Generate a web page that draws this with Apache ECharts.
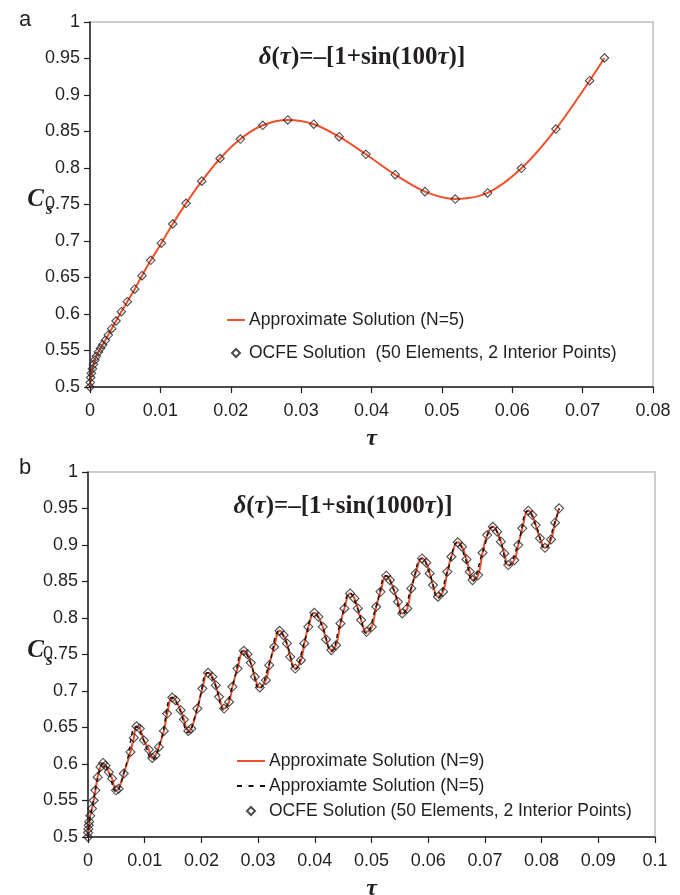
<!DOCTYPE html>
<html>
<head>
<meta charset="utf-8">
<script src="https://cdn.jsdelivr.net/npm/echarts@6/dist/echarts.min.js"></script>
<style>
html,body{margin:0;padding:0;background:#fff;}
#chart{width:680px;height:895px;}
</style>
</head>
<body>
<div id="chart"></div>
<script>
// ---------- Panel (a): delta(tau) = -[1+sin(100 tau)] ----------
const topTau = [0, 0.00003, 0.0001, 0.0002, 0.00035, 0.0005, 0.0007, 0.0009, 0.0012, 0.0015, 0.0018,
  0.00218, 0.0026, 0.00308, 0.0037, 0.00445, 0.0053, 0.00635, 0.00739, 0.00863, 0.01014, 0.01175,
  0.01365, 0.01588, 0.01848, 0.02137, 0.02455, 0.0281, 0.0318, 0.0354, 0.0392, 0.04337, 0.04759,
  0.0519, 0.0565, 0.0613, 0.0662, 0.0710, 0.0731];
const topCs = [0.5, 0.506, 0.513, 0.519, 0.525, 0.531, 0.537, 0.542, 0.548, 0.553, 0.558,
  0.564, 0.5712, 0.5799, 0.5904, 0.6032, 0.6169, 0.634, 0.6525, 0.6735, 0.697, 0.7233,
  0.7516, 0.782, 0.813, 0.8397, 0.8585, 0.8658, 0.860, 0.8429, 0.8188, 0.7908, 0.7676,
  0.7575, 0.7658, 0.7996, 0.8534, 0.9196, 0.9507];

// ---------- Panel (b): delta(tau) = -[1+sin(1000 tau)] ----------
// OCFE markers (also trace of the N=9 approximate solution)
const botTau = [0, 0.00002, 0.00006, 0.00012, 0.0002, 0.0004, 0.0007, 0.001, 0.0013, 0.0017, 0.0022,
  0.00265, 0.0031, 0.00366, 0.00425, 0.00495, 0.0054, 0.00631, 0.00749, 0.00808, 0.00855, 0.00914,
  0.00985, 0.01073, 0.01132, 0.0119, 0.0125, 0.01338, 0.01397, 0.01486, 0.01545, 0.01633, 0.01692,
  0.01769, 0.01822, 0.01928, 0.02017, 0.02117, 0.02193, 0.02252, 0.02311, 0.024, 0.02488, 0.02547,
  0.02636, 0.02748, 0.02813, 0.02871, 0.02942, 0.0303, 0.03137, 0.03196, 0.03284, 0.03379, 0.03449,
  0.03508, 0.03567, 0.03656, 0.03756, 0.03815, 0.03886, 0.03992, 0.04063, 0.0414, 0.04198, 0.04292,
  0.04375, 0.04452, 0.04522, 0.04623, 0.04699, 0.04758, 0.04817, 0.04912, 0.05006, 0.05083, 0.05159,
  0.0526, 0.05324, 0.05395, 0.05466, 0.05542, 0.05631, 0.05702, 0.05778, 0.0589, 0.05967, 0.06026,
  0.06085, 0.06173, 0.06262, 0.06338, 0.06409, 0.06521, 0.06597, 0.06675, 0.06733, 0.06781, 0.06881,
  0.06958, 0.0704, 0.0714, 0.07217, 0.07282, 0.07341, 0.07412, 0.07518, 0.07588, 0.07659, 0.07765,
  0.07836, 0.07895, 0.07972, 0.0806, 0.08167, 0.08237, 0.08308];
const botCs = [0.5, 0.506, 0.511, 0.516, 0.521, 0.529, 0.539, 0.55, 0.564, 0.582, 0.596,
  0.6015, 0.598, 0.589, 0.58, 0.564, 0.566, 0.587, 0.6165, 0.636, 0.6517, 0.6485,
  0.6325, 0.6197, 0.6083, 0.612, 0.6234, 0.6453, 0.6691, 0.691, 0.6874, 0.6737, 0.6609,
  0.6453, 0.6485, 0.676, 0.7034, 0.7249, 0.7194, 0.708, 0.692, 0.676, 0.6851, 0.7057,
  0.7308, 0.755, 0.7505, 0.7386, 0.7194, 0.7048, 0.7148, 0.7354, 0.7605, 0.7824, 0.7765,
  0.7651, 0.7468, 0.7308, 0.7422, 0.7651, 0.7879, 0.8071, 0.8016, 0.7879, 0.7706, 0.756,
  0.7628, 0.7925, 0.8131, 0.8336, 0.8268, 0.8131, 0.7971, 0.7811, 0.7879, 0.8154, 0.8359,
  0.8579, 0.8519, 0.8382, 0.8222, 0.8062, 0.8131, 0.8405, 0.8611, 0.8816, 0.8757, 0.8611,
  0.8451, 0.8291, 0.836, 0.8634, 0.8839, 0.9036, 0.8976, 0.8803, 0.8634, 0.8519, 0.8588,
  0.8894, 0.9136, 0.925, 0.9182, 0.9045, 0.8885, 0.8725, 0.8793, 0.8999, 0.9228, 0.947,
  0.941, 0.9273, 0.9091, 0.8962, 0.9077, 0.9305, 0.9502];
// N=5 approximate solution (dashed)
const botN5Tau = [0, 0.0003, 0.0008, 0.0015, 0.0022, 0.0027, 0.0037, 0.0049, 0.0066, 0.0085, 0.0099,
  0.0113, 0.0129, 0.0148, 0.0162, 0.0176, 0.0194, 0.0211, 0.0225, 0.0239, 0.0256, 0.0274, 0.0287,
  0.0302, 0.0320, 0.0337, 0.0351, 0.0365, 0.0382, 0.0399, 0.0414, 0.0429, 0.0445, 0.0462, 0.0476,
  0.0491, 0.0508, 0.0526, 0.0540, 0.0554, 0.0570, 0.0589, 0.0603, 0.0617, 0.0634, 0.0652, 0.0666,
  0.0678, 0.0696, 0.0714, 0.0728, 0.0741, 0.0758, 0.0776, 0.0790, 0.0806, 0.0823, 0.0831];
const botN5Cs = [0.5, 0.524, 0.543, 0.573, 0.596, 0.601, 0.588, 0.562, 0.595, 0.651, 0.631,
  0.606, 0.634, 0.691, 0.674, 0.643, 0.68, 0.725, 0.707, 0.674, 0.71, 0.755, 0.738,
  0.703, 0.738, 0.782, 0.764, 0.729, 0.768, 0.807, 0.787, 0.754, 0.793, 0.834, 0.812,
  0.779, 0.815, 0.858, 0.837, 0.804, 0.841, 0.882, 0.860, 0.827, 0.864, 0.904, 0.88,
  0.85, 0.89, 0.925, 0.904, 0.871, 0.9, 0.947, 0.927, 0.895, 0.93, 0.95];

const nameTopLine = 'Approximate Solution (N=5)';
const nameTopOcfe = 'OCFE Solution  (50 Elements, 2 Interior Points)';
const nameBotN9 = 'Approximate Solution (N=9)';
const nameBotN5 = 'Approxiamte Solution (N=5)';
const nameBotOcfe = 'OCFE Solution (50 Elements, 2 Interior Points)';

const zip = (a, b) => a.map((v, i) => [v, b[i]]);

const RED = '#f0502a';
const INK = '#231f20';
const SANS = 'Liberation Sans, Arial, sans-serif';
const SERIF = 'Liberation Serif, Times New Roman, serif';
const diamondIcon = 'path://M5,0 L10,5 L5,10 L0,5 Z';
const solidIcon18 = 'path://M0,0 L18,0 L18,2 L0,2 Z';
const solidIcon28 = 'path://M0,0 L28,0 L28,2 L0,2 Z';
const dashIcon28 = 'path://M0,0 L5,0 L5,2 L0,2 Z M11.5,0 L16.5,0 L16.5,2 L11.5,2 Z M23,0 L28,0 L28,2 L23,2 Z';

function xAxisCfg(grid, max) {
  return {
    type: 'value', gridIndex: grid, min: 0, max: max, interval: 0.01,
    axisLine: {show: true, onZero: false, lineStyle: {color: INK, width: 1.5}},
    axisTick: {show: true, inside: false, length: 6, lineStyle: {color: INK, width: 1.2}},
    axisLabel: {color: INK, fontSize: 18, fontFamily: SANS, margin: 15},
    splitLine: {show: false},
    name: 'τ', nameLocation: 'middle', nameGap: 40,
    nameTextStyle: {fontFamily: SERIF, fontStyle: 'italic', fontWeight: 'bold', fontSize: 24, color: INK}
  };
}
function yAxisCfg(grid) {
  return {
    type: 'value', gridIndex: grid, min: 0.5, max: 1, interval: 0.05,
    axisLine: {show: true, onZero: false, lineStyle: {color: INK, width: 1.5}},
    axisTick: {show: true, inside: false, length: 6, lineStyle: {color: INK, width: 1.2}},
    axisLabel: {color: INK, fontSize: 18, fontFamily: SANS, margin: 10,
      formatter: v => String(Math.round(v * 100) / 100)},
    splitLine: {show: false}
  };
}

const titleRich = size => ({
  i: {fontFamily: SERIF, fontStyle: 'italic', fontWeight: 'bold', fontSize: size, fill: INK},
  n: {fontFamily: SERIF, fontWeight: 'bold', fontSize: size, fill: INK}
});

const option = {
  backgroundColor: '#fff',
  animation: false,
  grid: [
    {left: 90, top: 22, width: 563, height: 365, show: true, borderColor: '#bdbdbd', borderWidth: 1.5,
      containLabel: false, outerBoundsMode: 'none'},
    {left: 88, top: 472, width: 567, height: 365, show: true, borderColor: '#bdbdbd', borderWidth: 1.5,
      containLabel: false, outerBoundsMode: 'none'}
  ],
  xAxis: [xAxisCfg(0, 0.08), xAxisCfg(1, 0.1)],
  yAxis: [yAxisCfg(0), yAxisCfg(1)],
  legend: [
    {
      orient: 'vertical', left: 227, top: 311, padding: 0, itemWidth: 18, itemHeight: 8, itemGap: 15,
      symbolKeepAspect: true,
      textStyle: {fontSize: 17.5, fontFamily: SANS, color: INK, padding: [0, 0, 0, -1]},
      data: [{name: nameTopLine, icon: solidIcon18}, {name: nameTopOcfe, icon: diamondIcon}]
    },
    {
      orient: 'vertical', left: 237, top: 752, padding: 0, itemWidth: 28, itemHeight: 8, itemGap: 7,
      symbolKeepAspect: true,
      textStyle: {fontSize: 17.5, fontFamily: SANS, color: INK, padding: [0, 0, 0, -1]},
      data: [{name: nameBotN9, icon: solidIcon28}, {name: nameBotN5, icon: dashIcon28},
             {name: nameBotOcfe, icon: diamondIcon}]
    }
  ],
  series: [
    {
      name: nameTopLine, type: 'line', xAxisIndex: 0, yAxisIndex: 0,
      data: zip(topTau, topCs), smooth: 0.3, symbol: 'none',
      lineStyle: {color: RED, width: 2}, itemStyle: {color: RED}, z: 2
    },
    {
      name: nameTopOcfe, type: 'scatter', xAxisIndex: 0, yAxisIndex: 0,
      data: zip(topTau, topCs), symbol: 'diamond', symbolSize: 8.5,
      itemStyle: {color: 'rgba(255,255,255,0)', borderColor: INK, borderWidth: 1.1}, z: 3
    },
    {
      name: nameBotN9, type: 'line', xAxisIndex: 1, yAxisIndex: 1,
      data: zip(botTau, botCs), smooth: 0.45, symbol: 'none',
      lineStyle: {color: RED, width: 2}, itemStyle: {color: RED}, z: 2
    },
    {
      name: nameBotN5, type: 'line', xAxisIndex: 1, yAxisIndex: 1,
      data: zip(botN5Tau, botN5Cs), smooth: 0.45, symbol: 'none',
      lineStyle: {color: '#111', width: 1.5, type: [4, 4]}, itemStyle: {color: '#111'}, z: 3
    },
    {
      name: nameBotOcfe, type: 'scatter', xAxisIndex: 1, yAxisIndex: 1,
      data: zip(botTau, botCs), symbol: 'diamond', symbolSize: 9,
      itemStyle: {color: 'rgba(255,255,255,0)', borderColor: INK, borderWidth: 1.1}, z: 4
    }
  ],
  graphic: [
    {type: 'text', left: 19, top: 9, style: {text: 'a', fontSize: 22, fontFamily: SANS, fill: INK}},
    {type: 'text', left: 19, top: 457, style: {text: 'b', fontSize: 22, fontFamily: SANS, fill: INK}},
    {type: 'text', x: 362, y: 58, style: {
      text: '{i|δ}{n|(}{i|τ}{n|)=–[1+sin(100}{i|τ}{n|)]}', rich: titleRich(25),
      align: 'center', verticalAlign: 'middle'}},
    {type: 'text', x: 343, y: 507, style: {
      text: '{i|δ}{n|(}{i|τ}{n|)=–[1+sin(1000}{i|τ}{n|)]}', rich: titleRich(25),
      align: 'center', verticalAlign: 'middle'}},
    {type: 'text', x: 44, y: 200, style: {text: 'C', fontFamily: SERIF, fontStyle: 'italic', fontWeight: 'bold', fontSize: 25, fill: INK, align: 'right', verticalAlign: 'middle'}},
    {type: 'text', x: 46, y: 210, style: {text: 's', fontFamily: SERIF, fontStyle: 'italic', fontWeight: 'bold', fontSize: 17, fill: INK, align: 'left', verticalAlign: 'middle'}},
    {type: 'text', x: 44, y: 651, style: {text: 'C', fontFamily: SERIF, fontStyle: 'italic', fontWeight: 'bold', fontSize: 25, fill: INK, align: 'right', verticalAlign: 'middle'}},
    {type: 'text', x: 46, y: 661, style: {text: 's', fontFamily: SERIF, fontStyle: 'italic', fontWeight: 'bold', fontSize: 17, fill: INK, align: 'left', verticalAlign: 'middle'}}
  ]
};

const chart = echarts.init(document.getElementById('chart'), null, {renderer: 'canvas'});
chart.setOption(option);
</script>
</body>
</html>
